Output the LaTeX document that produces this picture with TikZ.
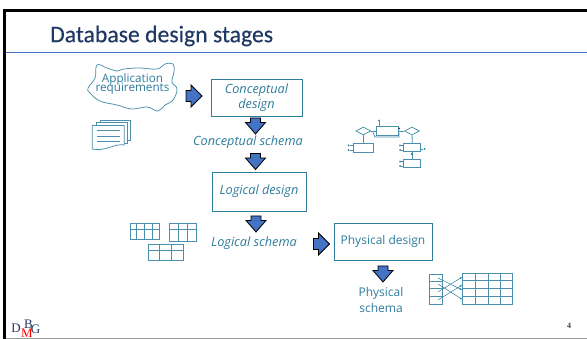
\documentclass[tikz,border=0pt]{standalone}
\usepackage{fontspec}
\setmainfont{Open Sans}
\newfontfamily\titlefont[FakeBold=0.35]{Carlito}
\newfontfamily\logofont{Liberation Serif}
\usetikzlibrary{shapes.geometric,arrows.meta}
\definecolor{teal1}{HTML}{2F7C9C}
\definecolor{teal2}{HTML}{4A8FAB}
\definecolor{arrowblue}{HTML}{4472C4}
\definecolor{titleblue}{HTML}{1F3864}
\tikzset{
  x=1pt,y=-1pt,
  stagebox/.style={draw=teal1,line width=0.9pt,fill=white,inner sep=0pt,text=teal1,align=center,font=\fontsize{12.7}{16}\selectfont},
  lab/.style={text=teal1,inner sep=0pt,align=center,font=\fontsize{12.7}{16}\selectfont},
  reqlab/.style={text=teal1,inner sep=0pt,font=\fontsize{11.7}{13}\selectfont},
  block/.style={draw=black,line width=0.8pt,fill=arrowblue,line join=miter},
  icon/.style={draw=teal2,line width=0.75pt},
  ent/.style={draw=teal2,line width=0.9pt,fill=white,inner sep=0pt,minimum width=17pt,minimum height=8.5pt},
  rel/.style={diamond,draw=teal2,line width=0.75pt,fill=white,inner sep=0pt,minimum width=15pt,minimum height=8pt},
  attr/.style={circle,fill=teal1,inner sep=0pt,minimum size=2pt},
  link/.style={draw=teal2,line width=0.8pt},
  smallarr/.style={draw=teal1,line width=0.5pt,-{Latex[length=2.5pt,width=2pt]}},
}
% block arrows: named centre, explicit outline
\newcommand{\blockdown}[3]{%
  \coordinate (#1) at (#2,#3);
  \draw[block] ([shift={(-5,-8)}]#1) -- ([shift={(5,-8)}]#1) -- ([shift={(5,-3.5)}]#1) -- ([shift={(10,-3.5)}]#1) -- ([shift={(0,8)}]#1) -- ([shift={(-10,-3.5)}]#1) -- ([shift={(-5,-3.5)}]#1) -- cycle;}
\newcommand{\blockright}[3]{%
  \coordinate (#1) at (#2,#3);
  \draw[block] ([shift={(-8,-5.5)}]#1) -- ([shift={(-3,-5.5)}]#1) -- ([shift={(-3,-11)}]#1) -- ([shift={(8,0)}]#1) -- ([shift={(-3,11)}]#1) -- ([shift={(-3,5.5)}]#1) -- ([shift={(-8,5.5)}]#1) -- cycle;}
\begin{document}
\begin{tikzpicture}
\useasboundingbox (0,0) rectangle (587,339);
% frame
\fill[white] (0,0) rectangle (587,339);
\fill[black] (3,9) rectangle (587,12);
\fill[black] (3,9) rectangle (6,339);
\fill[gray!80] (6,338) rectangle (587,339);
\node[anchor=west,inner sep=0pt,text=titleblue,font=\titlefont\fontsize{23.7}{26}\selectfont] (title) at (50,36) {Database design stages};
\draw[color=arrowblue,line width=0.8pt] (6,52) -- (587,52);
% cloud
\draw[icon,fill=white] plot[smooth cycle,tension=0.7] coordinates {(97,65)(107,68)(117,71)(124,69)(140,68)(157,69)(165,64)(173,64)(174,72)(172,82)(177,89)(173,100)(165,105)(158,111)(147,107)(132,109)(117,105)(100,101)(90,93)(88,88)(95,78)};
\node[reqlab,anchor=base] (req1) at (132.5,83) {Application};
\node[reqlab,anchor=base] (req2) at (132.5,92) {requirements};
% doc stack
\draw[icon,fill=white] (100,120.5) -- (130,120.5) -- (130,140.5) -- (100,140.5) -- cycle;
\draw[icon,fill=white] (96,122.5) -- (127,122.5) -- (127,143) -- (96,143) -- cycle;
\draw[icon,fill=white] (92.3,125.5) -- (124.3,125.5) -- (124.3,145) .. controls (115,143) and (105,152) .. (92.3,149) -- cycle;
\draw[icon] (97,130.5) -- (120,130.5) (97,136) -- (120,136) (97,141.5) -- (120,141.5);
% boxes
\node[stagebox,minimum width=91pt,minimum height=37pt] (cd) at (256.5,97.5) {\itshape Conceptual\\[-0.5pt]\itshape design};
\node[stagebox,minimum width=94pt,minimum height=39pt] (ld) at (259,191.5) {\itshape Logical design};
\node[stagebox,font=\fontsize{12}{16}\selectfont,minimum width=98pt,minimum height=37pt] (pd) at (383,241.5) {Physical design};
\node[lab] (cs) at (248,142) {\itshape Conceptual schema};
\node[lab] (ls) at (254,243) {\itshape Logical schema};
\node[lab,font=\fontsize{12}{16}\selectfont] (ps) at (381,300) {Physical\\schema};
% block arrows
\blockright{a1}{194}{96}
\blockdown{a2}{255.5}{126}
\blockdown{a3}{255.5}{161.5}
\blockdown{a4}{256}{224}
\blockright{a5}{321.5}{244}
\blockdown{a6}{383}{274}
% ER diagram
\node[rel] (r1) at (363.3,131) {};
\node[rel] (r2) at (412,131) {};
\node[ent,minimum width=21.5pt] (e0) at (387.3,131) {};
\node[ent,minimum width=20pt] (e1) at (363.3,147.8) {};
\node[ent] (e2) at (412.3,147.6) {};
\node[ent] (e3) at (412.3,163.3) {};
\draw[link] (r1) -- (e1);
\draw[link] (r2) -- (e2);
\draw[link] (e2) -- (e3);
\draw[link] (r1) -- (e0);
\draw[link] (e0) -- (r2);
\draw[link] (373,132.5) -- (375,137) -- (399,137) -- (399,133);
\coordinate (t0) at (379,120.5);
\node[attr] at (t0) {};
\draw[link] (t0) -- (379,126.7);
\foreach \nm/\x/\y/\tx in {a/348.5/145.3/353.3,b/348.5/150/353.3,c/400/145.3/404,d/400/150/404,f/400/161.5/404,g/400/166/404}{
  \node[attr] (\nm) at (\x,\y) {};
  \draw[link,line width=0.5pt] (\nm) -- (\tx,\y);
}
\node[attr] (h) at (424.5,149) {};
\draw[link,line width=0.5pt] (h) -- (e2.east |- h);
\node[attr,fill=teal1!60!black] at (399,128.5) {};
\node[attr] at (411.5,154) {};
% logical tables
\draw[icon] (130.7,223.3) rectangle (159.3,239.3) (130.7,229) -- (159.3,229) (136.7,223.3) -- (136.7,239.3) (144.7,223.3) -- (144.7,239.3) (152.7,223.3) -- (152.7,239.3);
\draw[icon] (169,223.3) rectangle (196.3,241.7) (169,229) -- (196.3,229) (178,223.3) -- (178,241.7) (187.7,223.3) -- (187.7,241.7);
\draw[icon] (148.3,244.7) rectangle (183.3,260.7) (148.3,250) -- (183.3,250) (159.7,244.7) -- (159.7,260.7) (171.7,244.7) -- (171.7,260.7);
% physical
\draw[icon] (429.7,274) rectangle (442.7,304) (429.7,281.3) -- (442.7,281.3) (429.7,288.7) -- (442.7,288.7) (429.7,296.3) -- (442.7,296.3);
\draw[icon] (462.3,273.3) rectangle (512.7,304.3) (462.3,280.3) -- (512.7,280.3) (462.3,288.7) -- (512.7,288.7) (462.3,296.3) -- (512.7,296.3) (475,273.3) -- (475,304.3) (488,273.3) -- (488,304.3) (500.7,273.3) -- (500.7,304.3);
\draw[smallarr] (438,278) -- (462.3,290);
\draw[smallarr] (438,284) -- (462.3,299.5);
\draw[smallarr] (438,292) -- (462.3,277);
\draw[smallarr] (438,300) -- (462.3,285);
% page number and logo
\node[inner sep=0pt,font=\logofont\bfseries\fontsize{8}{9}\selectfont,text=black!75] (pn) at (569,326) {4};
\node[inner sep=0pt,font=\logofont\fontsize{13}{13}\selectfont,text=titleblue] (ld1) at (16,328) {D};
\node[inner sep=0pt,font=\logofont\fontsize{13}{13}\selectfont,text=red] (ld4) at (27,333) {M};
\node[inner sep=0pt,font=\logofont\fontsize{13}{13}\selectfont,text=titleblue] (ld2) at (28.5,324) {B};
\node[inner sep=0pt,font=\logofont\fontsize{13}{13}\selectfont,text=titleblue] (ld3) at (35.5,329) {G};
\end{tikzpicture}
\end{document}
